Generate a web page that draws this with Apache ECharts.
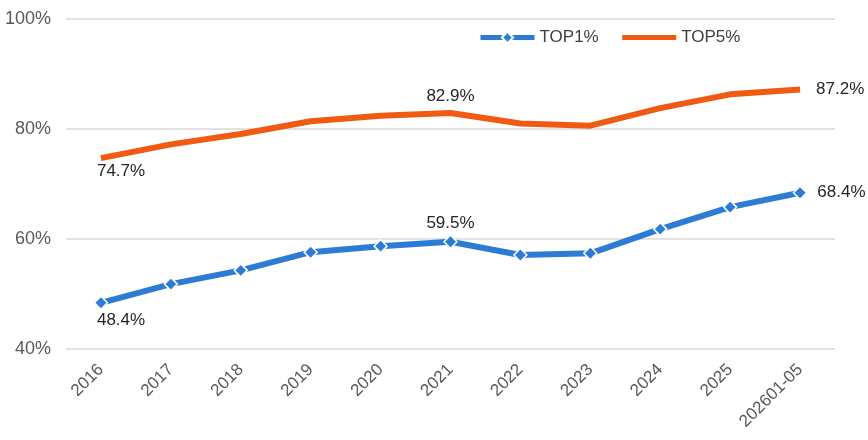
<!DOCTYPE html>
<html>
<head>
<meta charset="utf-8">
<script src="https://cdn.jsdelivr.net/npm/echarts@6/dist/echarts.min.js"></script>
<style>
html,body{margin:0;padding:0;background:#fff;}
#chart{width:868px;height:440px;}
</style>
</head>
<body>
<div id="chart"></div>
<script>
const categories = ['2016','2017','2018','2019','2020','2021','2022','2023','2024','2025','202601-05'];
const top1 = [48.4, 51.8, 54.3, 57.6, 58.7, 59.5, 57.1, 57.4, 61.8, 65.8, 68.4];
const top5 = [74.7, 77.2, 79.1, 81.4, 82.4, 82.9, 81.0, 80.6, 83.8, 86.3, 87.2];
const yTicks = [40, 60, 80, 100];
const labelIdx = {0: 'bottom', 5: 'top', 10: 'right'};

const FONT = "'Liberation Sans', Arial, sans-serif";
const BLUE = '#2C7BD4';
const ORANGE = '#F05A12';

function labelled(arr, dist) {
  return arr.map((v, i) => {
    const pos = labelIdx[i];
    if (!pos) return v;
    const lab = {show: true, position: pos, distance: dist[pos],
                 formatter: p => p.value.toFixed(1) + '%'};
    if (pos === 'bottom') { lab.align = 'left'; lab.offset = [-4, 0]; }
    return {value: v, label: lab};
  });
}

const chart = echarts.init(document.getElementById('chart'), null, {renderer: 'canvas'});
chart.setOption({
  animation: false,
  textStyle: {fontFamily: FONT},
  grid: {left: 66, right: 33, top: 19, bottom: 91, containLabel: false},
  legend: {
    left: 473, top: 24,
    itemWidth: 54, itemHeight: 14, itemGap: 21,
    lineStyle: {width: 5},
    textStyle: {fontFamily: FONT, fontSize: 17, color: '#404040'},
    data: [{name: 'TOP1%'}, {name: 'TOP5%', itemStyle: {opacity: 0}}]
  },
  xAxis: {
    type: 'category',
    data: categories,
    boundaryGap: true,
    axisLine: {show: false},
    axisTick: {show: false},
    axisLabel: {rotate: 45, fontFamily: FONT, fontSize: 17, color: '#595959', margin: 18, interval: 0}
  },
  yAxis: {
    type: 'value',
    min: yTicks[0], max: yTicks[yTicks.length - 1], interval: 20,
    axisLine: {show: false},
    axisTick: {show: false},
    splitLine: {lineStyle: {color: '#D9D9D9', width: 1.5}},
    axisLabel: {formatter: '{value}%', fontFamily: FONT, fontSize: 18, color: '#595959', margin: 15}
  },
  series: [
    {
      name: 'TOP1%',
      type: 'line',
      data: labelled(top1, {bottom: 2, top: 3, right: 10}),
      color: BLUE,
      lineStyle: {width: 6, color: BLUE},
      symbol: 'diamond',
      symbolSize: 13,
      showAllSymbol: true,
      itemStyle: {color: BLUE, borderColor: '#fff', borderWidth: 1.5},
      label: {fontFamily: FONT, fontSize: 17, color: '#262626'},
      z: 3
    },
    {
      name: 'TOP5%',
      type: 'line',
      data: labelled(top5, {bottom: 5, top: 8, right: 16}),
      color: ORANGE,
      lineStyle: {width: 6, color: ORANGE},
      symbol: 'circle',
      symbolSize: 0,
      showAllSymbol: true,
      itemStyle: {color: ORANGE, opacity: 0},
      label: {fontFamily: FONT, fontSize: 17, color: '#262626', opacity: 1},
      z: 2
    }
  ]
});
</script>
</body>
</html>
